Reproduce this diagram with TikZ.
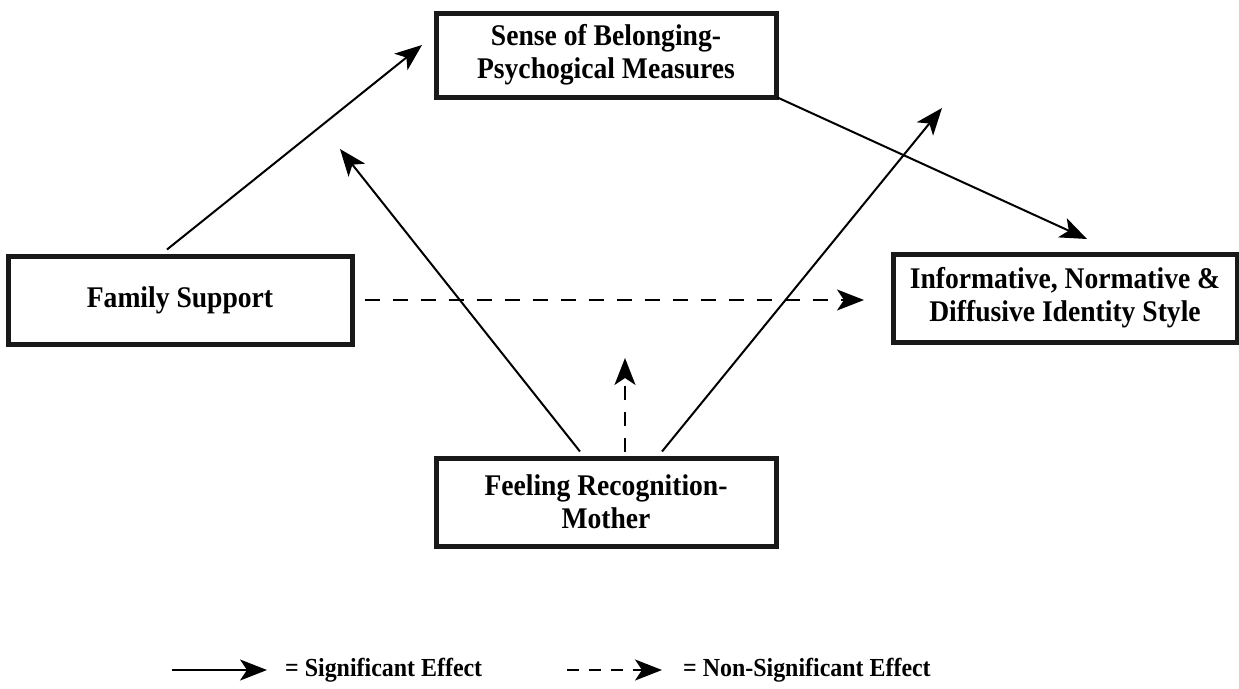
\documentclass[tikz,border=0pt]{standalone}
\usepackage{fontspec}
\setmainfont[FakeStretch=0.92]{Liberation Serif}
\usetikzlibrary{arrows.meta}
\begin{document}
\begin{tikzpicture}[x=1pt,y=-1pt,
  box/.style={draw=black!90, line width=5pt, rectangle, inner sep=0pt, align=center,
    font=\fontsize{30}{33}\selectfont\bfseries},
  sig/.style={line width=2pt, -{Stealth[length=27pt,width=21pt,inset=7pt]}},
  nsig/.style={line width=2pt, dash pattern=on 15pt off 13pt, -{Stealth[length=27pt,width=21pt,inset=7pt]}},
  legtext/.style={font=\fontsize{26}{28}\selectfont\bfseries, anchor=west, inner sep=0pt}
]
\useasboundingbox (0,0) rectangle (1239,688);

\node[box, minimum width=340pt, minimum height=84pt] (top) at (606,55) {Sense of Belonging-\\Psychogical Measures};
\node[box, minimum width=344pt, minimum height=88pt] (fam) at (180,300) {Family Support};
\node[box, minimum width=344pt, minimum height=88pt] (out) at (1065,298) {Informative, Normative \&\\Diffusive Identity Style};
\node[box, minimum width=340pt, minimum height=88pt] (mom) at (606,502) {Feeling Recognition-\\Mother};

\coordinate (t1) at (422,45);
\coordinate (t2) at (1087,239);
\coordinate (t3) at (340,149);
\coordinate (t4) at (942,108);
\coordinate (t5) at (625,358);
\coordinate (t6) at (864,300);

\draw[sig] ([xshift=-13pt,yshift=4pt]fam.north) -- (t1);
\draw[sig] ([xshift=-1pt,yshift=2pt]top.south east) -- (t2);
\draw[sig] ([xshift=-26pt,yshift=4pt]mom.north) -- (t3);
\draw[sig] ([xshift=56pt,yshift=4pt]mom.north) -- (t4);
\draw[nsig, dash pattern=on 14pt off 12pt] ([xshift=19pt,yshift=4pt]mom.north) -- (t5);
\draw[nsig] ([xshift=10pt]fam.east |- t6) -- (t6);

% legend
\coordinate (l1) at (172,670);
\coordinate (l2) at (267,670);
\coordinate (l3) at (567,670);
\coordinate (l4) at (662,670);
\draw[sig] (l1) -- (l2);
\node[legtext] (ls) at (285,670) {= Significant Effect};
\draw[nsig, dash pattern=on 12pt off 10pt] (l3) -- (l4);
\node[legtext] (ln) at (683,670) {= Non-Significant Effect};
\end{tikzpicture}
\end{document}
